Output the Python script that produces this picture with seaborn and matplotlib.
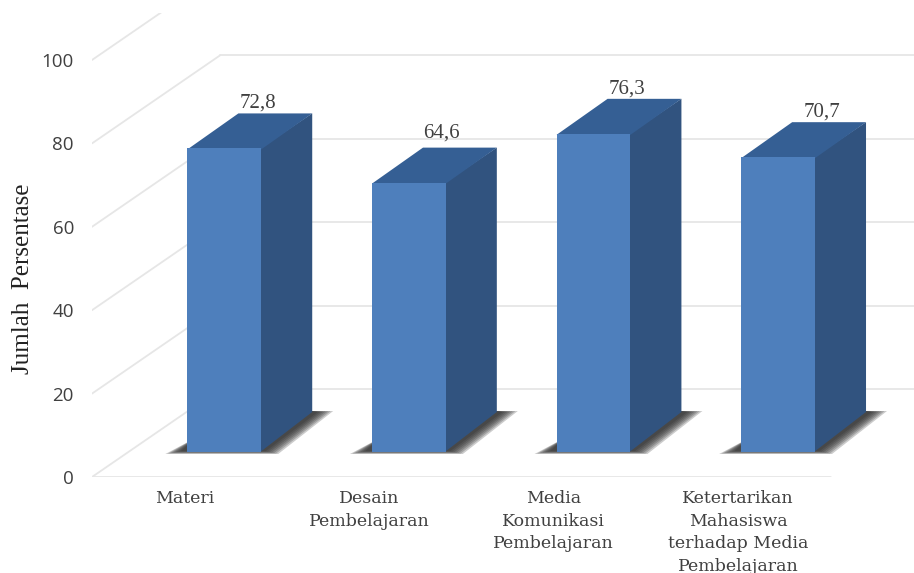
import matplotlib
matplotlib.use("Agg")
import matplotlib.pyplot as plt
from matplotlib.patches import Polygon
import pandas as pd
import seaborn as sns

categories = ["Materi", "Desain\nPembelajaran", "Media\nKomunikasi\nPembelajaran",
              "Ketertarikan\nMahasiswa\nterhadap Media\nPembelajaran"]
values = [72.8, 64.6, 76.3, 70.7]
value_labels = ["72,8", "64,6", "76,3", "70,7"]
y_ticks = [0, 20, 40, 60, 80, 100]

FRONT, SIDE, TOP = "#4E7FBC", "#31537F", "#355F94"
GRID, TEXT = "#E6E6E6", "#404040"

# pixel geometry of the pseudo-3D projection
PX_X, PX_Y = 184.6, 4.17
WALL_DX, WALL_DY = 128, 88
BAR_DX, BAR_DY = 40, 25
DEPTH_DX, DEPTH_DY = 51, 35
BAR_W = 0.4

sns.set_theme(style="white")
fig = plt.figure(figsize=(9.14, 5.73), dpi=100, facecolor="white")
ax = fig.add_axes([92 / 914, (573 - 477) / 573, 822 / 914, 464 / 573])

df = pd.DataFrame({"cat": categories, "val": values})
sns.barplot(data=df, x="cat", y="val", color=FRONT, saturation=1, width=BAR_W, ax=ax, zorder=4)
ax.set_xlim(-0.5, -0.5 + 822 / PX_X)
ax.set_ylim(0, 464 / PX_Y)


def shift(x, y, dx=0, dy=0):
    return (x + dx / PX_X, y + dy / PX_Y)


# back wall + floor grid
for t in y_ticks:
    p0 = shift(-0.5, t)
    p1 = shift(-0.5, t, WALL_DX, WALL_DY)
    ax.plot([p0[0], p1[0]], [p0[1], p1[1]], color=GRID, lw=1.3, zorder=1)
    ax.plot([p1[0], 5], [p1[1], p1[1]], color=GRID, lw=1.3, zorder=1)
ax.plot([-0.5, 3.5], [0, 0], color=GRID, lw=2, zorder=1)

# front faces come from seaborn; move them onto the bar plane
for patch in ax.patches:
    patch.set_x(patch.get_x() + BAR_DX / PX_X)
    patch.set_y(BAR_DY / PX_Y)
    patch.set_linewidth(0)

for i, v in enumerate(values):
    xl, xr = i - BAR_W / 2, i + BAR_W / 2
    base = BAR_DY / PX_Y
    # soft floor shadow, built from layers that shrink towards the core
    for layer in range(7):
        g = (6 - layer) * 1.6
        pts = [shift(xl, 0, BAR_DX - 22 + g * 1.6, BAR_DY - 2 + g * 0.3),
               shift(xr, 0, BAR_DX + 17 - g * 1.3, BAR_DY - 2 + g * 0.3),
               shift(xr, 0, BAR_DX + DEPTH_DX + 21 - g * 1.6, BAR_DY + 41 - g * 0.1),
               shift(xr, 0, BAR_DX + DEPTH_DX, BAR_DY + 41),
               shift(xl, 0, BAR_DX + 8, BAR_DY + 14)]
        ax.add_patch(Polygon(pts, closed=True, fc="#2A2A2A", ec="none", alpha=0.24, zorder=2))
    # side face (overlaps the front face slightly so no seam shows)
    side = [shift(xr, base, BAR_DX - 1), shift(xr, base + v, BAR_DX - 1),
            shift(xr, base + v, BAR_DX + DEPTH_DX, DEPTH_DY),
            shift(xr, base, BAR_DX + DEPTH_DX, DEPTH_DY + 5)]
    ax.add_patch(Polygon(side, closed=True, fc=SIDE, ec="none", zorder=3))
    # top face (same overlap downwards)
    top = [shift(xl, base + v, BAR_DX, -1), shift(xr, base + v, BAR_DX, -1),
           shift(xr, base + v, BAR_DX + DEPTH_DX, DEPTH_DY),
           shift(xl, base + v, BAR_DX + DEPTH_DX, DEPTH_DY)]
    ax.add_patch(Polygon(top, closed=True, fc=TOP, ec="none", zorder=3))

# value labels
label_nudge = [(74, 0), (73, 5), (74, 0), (84, 0)]
for i, (v, lab) in enumerate(zip(values, value_labels)):
    nx, ny = label_nudge[i]
    ax.annotate(lab, xy=(i, BAR_DY / PX_Y + v), xytext=(nx, 45 + ny), textcoords="offset pixels",
                ha="center", va="center", fontsize=15, family="Liberation Serif",
                color=TEXT, zorder=6, annotation_clip=False)

sns.despine(ax=ax, left=True, bottom=True)
ax.set_yticks(y_ticks)
ax.set_yticklabels([str(t) for t in y_ticks], family="Open Sans", fontsize=13.5, color=TEXT)
ax.tick_params(axis="y", length=0, pad=13)
ax.tick_params(axis="x", length=0, pad=9.5)
ax.set_xticks(range(len(categories)))
ax.set_xticklabels(categories, family="DejaVu Serif", fontsize=12.5, color=TEXT, linespacing=1.42)
ax.set_xlabel("")
ax.set_ylabel("Jumlah  Persentase", family="Liberation Serif", fontsize=18, color="#222222")
ax.yaxis.set_label_coords(-58 / 822, 0.427)

fig.savefig("out.png", dpi=100, facecolor="white")
